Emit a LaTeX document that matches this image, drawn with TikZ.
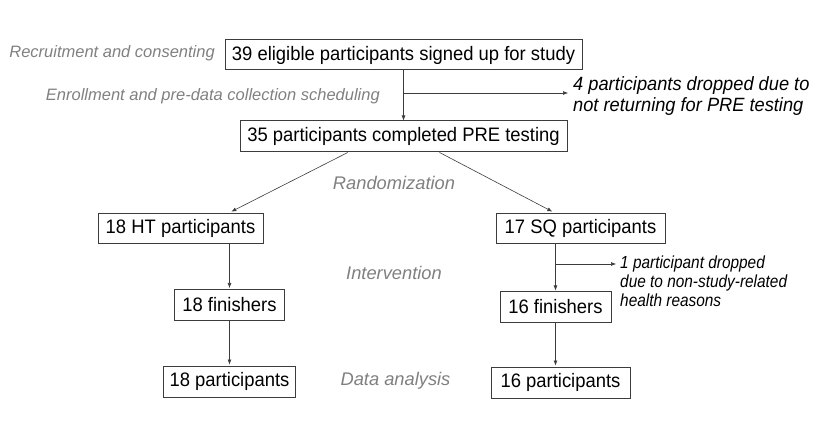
\documentclass[tikz,border=0pt]{standalone}
\usepackage{fontspec}
\setmainfont{Liberation Sans}
\newfontfamily\boxfont[FakeStretch=0.945]{Liberation Sans}
\newfontfamily\dropfont[FakeStretch=0.95]{Liberation Sans}
\newfontfamily\dropsfont[FakeStretch=0.88]{Liberation Sans}
\usetikzlibrary{arrows.meta,calc}
\definecolor{lbl}{RGB}{128,128,128}
\definecolor{edge}{RGB}{60,60,60}
\tikzset{
  box/.style={draw=edge, line width=1pt, inner sep=0pt, font=\boxfont\fontsize{19.5}{22}\selectfont, text=black},
  glabel/.style={font=\fontsize{16.5}{20}\selectfont\itshape, text=lbl, inner sep=0pt},
  mlabel/.style={font=\fontsize{18.3}{20}\selectfont\itshape, text=lbl, inner sep=0pt},
  dtext/.style={font=\dropfont\fontsize{19.2}{20.5}\selectfont\itshape, align=left, inner sep=0pt},
  dtexts/.style={font=\dropsfont\fontsize{17.5}{19}\selectfont\itshape, align=left, inner sep=0pt},
  arr/.style={draw=edge, line width=0.6pt, -{Latex[length=5pt,width=4pt]}},
  ln/.style={draw=edge, line width=0.6pt}
}
\begin{document}
\begin{tikzpicture}[x=1pt,y=-1pt]
\useasboundingbox (0,0) rectangle (825,422);
% boxes
\node[box, minimum width=357pt, minimum height=30pt] (b1) at (403.5,55) {39 eligible participants signed up for study};
\node[box, minimum width=327pt, minimum height=31pt] (b2) at (403.5,136.5) {35 participants completed PRE testing};
\node[box, minimum width=165pt, minimum height=30pt] (ht) at (180.5,228.5) {18 HT participants};
\node[box, minimum width=169pt, minimum height=30pt] (sq) at (580.5,228.5) {17 SQ participants};
\node[box, minimum width=110pt, minimum height=31pt] (hf) at (229.5,305) {18 finishers};
\node[box, minimum width=111pt, minimum height=30pt] (sf) at (555.5,307) {16 finishers};
\node[box, minimum width=132pt, minimum height=31pt] (hp) at (229.5,381.5) {18 participants};
\node[box, minimum width=139pt, minimum height=31pt] (sp) at (560.5,382.5) {16 participants};
% labels
\node[glabel, anchor=east] (l1) at (215,53) {Recruitment and consenting};
\node[glabel, anchor=east] (l2) at (380,96) {Enrollment and pre-data collection scheduling};
\node[mlabel] (l3) at (394,183) {Randomization};
\node[mlabel] (l4) at (394,273) {Intervention};
\node[mlabel] (l5) at (395.5,381) {Data analysis};
% dropped texts
\node[dtext, anchor=west] (d1) at (573,96) {4 participants dropped due to\\not returning for PRE testing};
\node[dtexts, anchor=west] (d2) at (620,281) {1 participant dropped\\due to non-study-related\\health reasons};
% connectors
\draw[arr] (b1.south) -- (b2.north);
\coordinate (br1) at (b1.south |- 0,93);
\draw[arr] (br1) -- (br1 -| d1.west) [shorten >=5pt];
\draw[arr, shorten >=3pt] ($(b2.south west)!0.33!(b2.south east)$) -- ($(ht.north west)!0.79!(ht.north east)$);
\draw[arr, shorten >=3pt] ($(b2.south west)!0.61!(b2.south east)$) -- ($(sq.north west)!0.35!(sq.north east)$);
\draw[arr, shorten >=1pt] (hf.north |- ht.south) -- (hf.north);
\draw[arr, shorten >=1pt] (hf.south) -- (hp.north);
\draw[arr, shorten >=1pt] (sf.north |- sq.south) -- (sf.north);
\coordinate (br2) at (sf.north |- 0,264);
\draw[arr] (br2) -- (br2 -| d2.west) [shorten >=4pt];
\draw[arr, shorten >=1pt] (sf.south) -- (sf.south |- sp.north);
\end{tikzpicture}
\end{document}
